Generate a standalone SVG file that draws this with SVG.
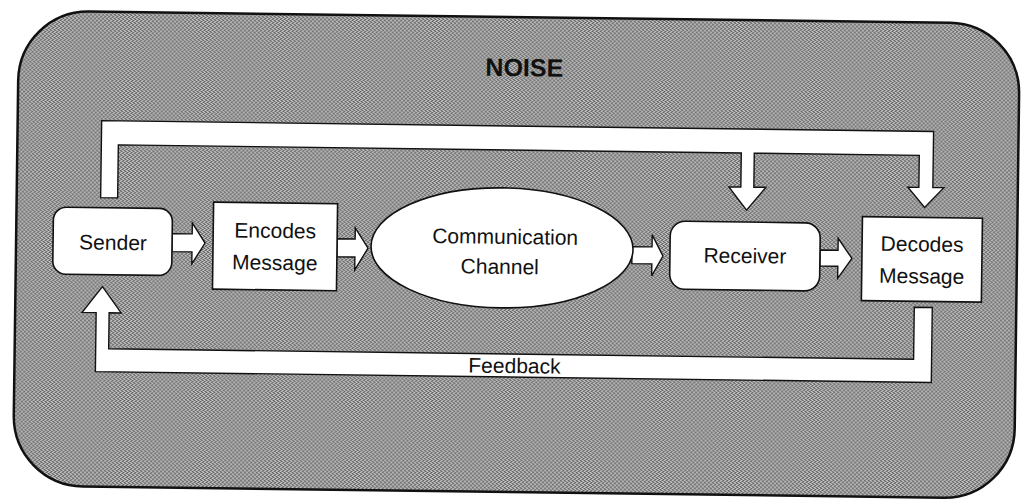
<svg xmlns="http://www.w3.org/2000/svg" width="1021" height="500" viewBox="0 0 1021 500">
<style>
.bg{fill:url(#stipple);stroke:#111;stroke-width:2.5}
.box{fill:#fff;stroke:#111;stroke-width:1.6}
.arr{fill:#fff;stroke:#111;stroke-width:1.4;stroke-linejoin:miter}
.t{font-family:"Liberation Sans",Arial,sans-serif;font-size:21px;fill:#111;text-anchor:middle}
.noise{font-family:"Liberation Sans",Arial,sans-serif;font-size:25px;font-weight:bold;fill:#111;text-anchor:middle}
</style>
<defs>
<pattern id="stipple" patternUnits="userSpaceOnUse" width="4" height="4">
<rect width="4" height="4" fill="#979797"/>
<rect x="0" y="0" width="1" height="1" fill="#5a5a5a"/>
<rect x="2" y="1" width="1" height="1" fill="#5a5a5a"/>
<rect x="1" y="2" width="1" height="1" fill="#5a5a5a"/>
<rect x="3" y="3" width="1" height="1" fill="#5a5a5a"/>
<rect x="2" y="0" width="1" height="1" fill="#cfcfcf"/>
<rect x="0" y="1" width="1" height="1" fill="#cfcfcf"/>
<rect x="3" y="2" width="1" height="1" fill="#cfcfcf"/>
<rect x="1" y="3" width="1" height="1" fill="#cfcfcf"/>
</pattern>
</defs>
<rect width="1021" height="500" fill="#fff"/>
<g transform="rotate(0.75 510 250)">
<g id="noise">
<rect class="bg" x="16" y="17" width="1001" height="475" rx="70" ry="70"/>
<text class="noise" x="522" y="76">NOISE</text>
</g>
<g id="connectors">
<path class="arr" d="M100,203 L100,126 L932,126 L932,182 L943,182 L924,202 L907,182 L918,182 L918,150 L753,150 L753,184 L765,184 L746,207 L728,184 L740,184 L740,150 L117,150 L117,203 Z"/>
<path class="arr" d="M915,302 L933,302 L933,377 L97,377 L97,318 L83,318 L103,292 L122,318 L110,318 L110,354 L915,354 Z"/>
<text class="t" x="516" y="373">Feedback</text>
<path class="arr" d="M172,238 L192,238 L192,227 L205,247 L192,268 L192,256 L172,256 Z"/>
<path class="arr" d="M337,241 L355,241 L355,230 L368,250 L355,272 L355,259 L337,259 Z"/>
<path class="arr" d="M632,245 L652,245 L652,233 L663,254 L652,274 L652,262 L632,262 Z"/>
<path class="arr" d="M820,246 L838,246 L838,234 L852,254 L838,274 L838,262 L820,262 Z"/>
</g>
<g id="sender">
<rect class="box" x="53" y="213" width="119" height="67" rx="13"/>
<text class="t" x="113" y="255">Sender</text>
</g>
<g id="encodes">
<rect class="box" x="213" y="206" width="124" height="87"/>
<text class="t" x="275" y="241">Encodes</text>
<text class="t" x="275" y="273">Message</text>
</g>
<g id="channel">
<ellipse class="box" cx="502" cy="248" rx="131" ry="60"/>
<text class="t" x="505" y="244">Communication</text>
<text class="t" x="500" y="274">Channel</text>
</g>
<g id="receiver">
<rect class="box" x="670" y="219" width="150" height="68" rx="15"/>
<text class="t" x="745" y="260">Receiver</text>
</g>
<g id="decodes">
<rect class="box" x="862" y="212" width="120" height="84"/>
<text class="t" x="922" y="246">Decodes</text>
<text class="t" x="922" y="278">Message</text>
</g>
</g>
</svg>
